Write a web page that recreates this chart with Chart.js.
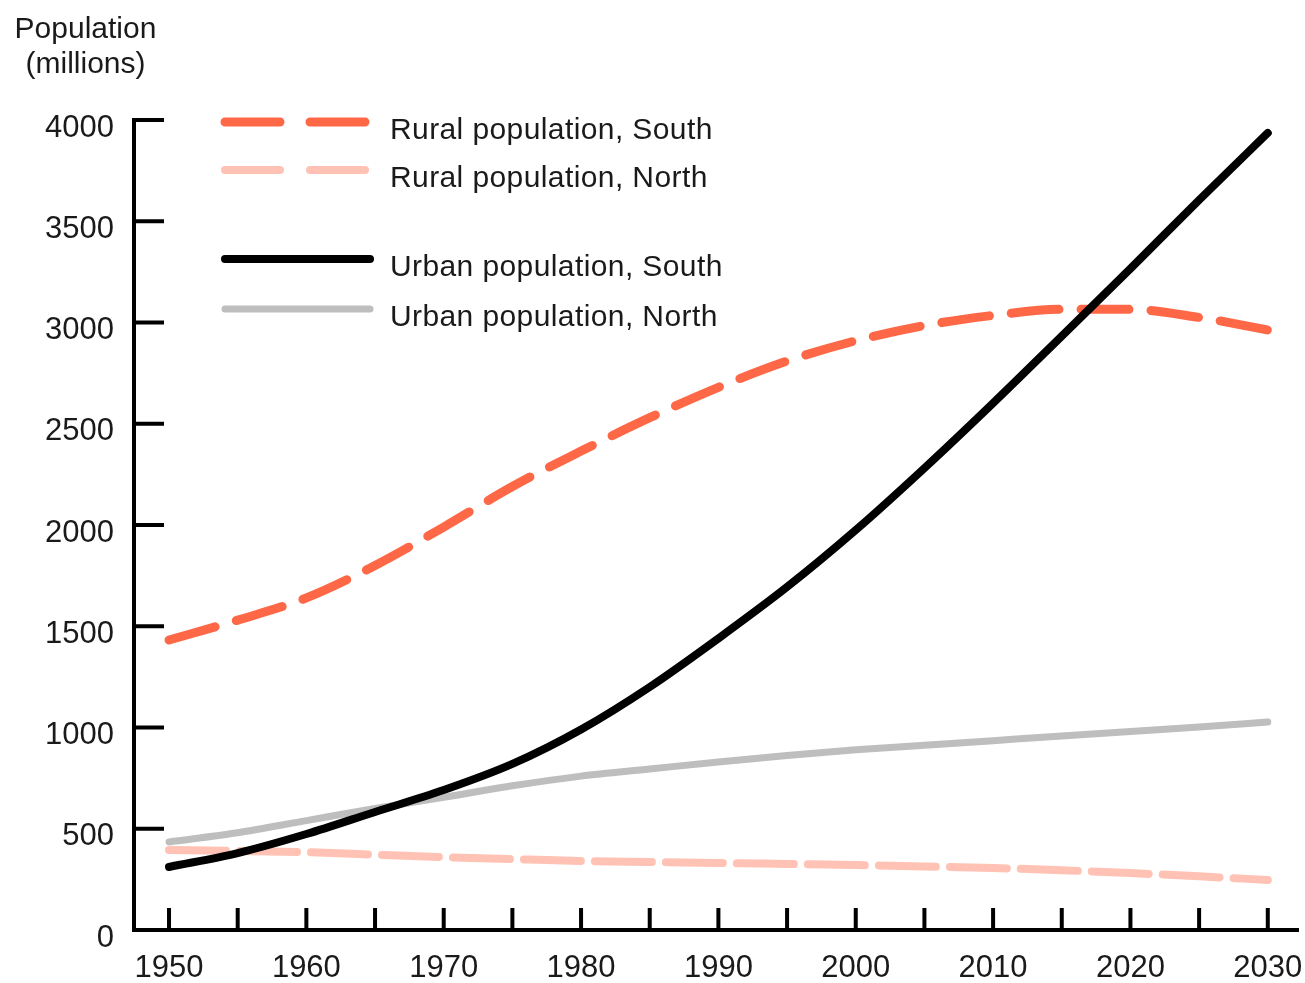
<!DOCTYPE html>
<html>
<head>
<meta charset="utf-8">
<script src="https://cdn.jsdelivr.net/npm/chart.js@4.4.0/dist/chart.umd.min.js"></script>
<style>
  body { margin: 0; background: #fff; }
  #wrap { position: relative; width: 1305px; height: 983px; }
  #title {
    position: absolute; left: 0; top: 10px; width: 171px;
    text-align: center; color: #1a1a1a;
    font: 30px "Liberation Sans", Arial, sans-serif; line-height: 35px;
  }
</style>
</head>
<body>
<div id="wrap">
  <canvas id="popChart" width="1305" height="983"></canvas>
  <div id="title">Population<br>(millions)</div>
</div>
<script>
// population in millions, every 5 years
var years      = [1950, 1955, 1960, 1965, 1970, 1975, 1980, 1985, 1990, 1995, 2000, 2005, 2010, 2015, 2020, 2025, 2030];
var ruralSouth = [1432, 1530, 1640, 1800, 1990, 2190, 2365, 2530, 2680, 2810, 2910, 2985, 3035, 3065, 3065, 3025, 2963];
var ruralNorth = [ 395,  390,  384,  372,  360,  350,  341,  336,  331,  326,  321,  314,  306,  295,  281,  265,  247];
var urbanSouth = [ 311,  380,  474,  583,  691,  820,  990, 1200, 1440, 1694, 1975, 2281, 2602, 2933, 3266, 3605, 3936];
var urbanNorth = [ 435,  480,  540,  600,  655,  712,  760,  795,  830,  862,  890,  912,  935,  958,  980, 1002, 1027];

var yTickValues = [0, 500, 1000, 1500, 2000, 2500, 3000, 3500, 4000];
var xTickYears  = [1950, 1955, 1960, 1965, 1970, 1975, 1980, 1985, 1990, 1995, 2000, 2005, 2010, 2015, 2020, 2025, 2030];

var FONT = '"Liberation Sans", Arial, sans-serif';

function points(values) {
  return years.map(function(y, i) { return { x: y, y: values[i] }; });
}

// short tick marks drawn inside the plot, like the original
var axisMarks = {
  id: 'axisMarks',
  beforeDatasetsDraw: function(chart) {
    var ctx = chart.ctx, area = chart.chartArea;
    var xs = chart.scales.x, ys = chart.scales.y;
    ctx.save();
    ctx.strokeStyle = '#000';
    ctx.lineWidth = 4;
    ctx.beginPath();
    yTickValues.forEach(function(v) {
      if (v === 0) return;
      var y = ys.getPixelForValue(v);
      ctx.moveTo(area.left, y);
      ctx.lineTo(area.left + 30, y);
    });
    xTickYears.forEach(function(yr) {
      var x = xs.getPixelForValue(yr);
      ctx.moveTo(x, area.bottom);
      ctx.lineTo(x, area.bottom - 22);
    });
    ctx.stroke();
    ctx.restore();
  }
};

// legend in the top-left corner of the plot, with a gap between rural and urban
var legendRows = [122, 170, 259, 309];
var sideLegend = {
  id: 'sideLegend',
  afterDraw: function(chart) {
    var ctx = chart.ctx;
    ctx.save();
    chart.data.datasets.forEach(function(ds, i) {
      var y = legendRows[i];
      var dashed = ds.borderDash && ds.borderDash.length;
      ctx.strokeStyle = ds.borderColor;
      ctx.lineWidth = ds.borderWidth;
      ctx.lineCap = 'round';
      ctx.setLineDash(dashed ? [55, 30] : []);
      ctx.beginPath();
      ctx.moveTo(225, y);
      ctx.lineTo(dashed ? 366 : 370, y);
      ctx.stroke();
      ctx.setLineDash([]);
      ctx.fillStyle = '#1a1a1a';
      ctx.font = '30px ' + FONT;
      ctx.letterSpacing = '0.4px';
      ctx.textBaseline = 'alphabetic';
      ctx.fillText(ds.label, 390, y + 17);
    });
    ctx.restore();
  }
};

var ctx = document.getElementById('popChart').getContext('2d');
var chart = new Chart(ctx, {
  type: 'line',
  data: {
    datasets: [
      { label: 'Rural population, South', data: points(ruralSouth), borderColor: '#ff6847', borderWidth: 9, borderDash: [48, 22], order: 2 },
      { label: 'Rural population, North', data: points(ruralNorth), borderColor: '#ffc2b4', borderWidth: 8, borderDash: [57, 14], order: 3 },
      { label: 'Urban population, South', data: points(urbanSouth), borderColor: '#000000', borderWidth: 8, borderDash: [], order: 0 },
      { label: 'Urban population, North', data: points(urbanNorth), borderColor: '#bebebe', borderWidth: 7, borderDash: [], order: 1 }
    ]
  },
  options: {
    responsive: false,
    animation: false,
    layout: { padding: { top: 120, right: 7, left: 0, bottom: 0 } },
    plugins: { legend: { display: false }, tooltip: { enabled: false } },
    elements: {
      point: { radius: 0 },
      line: { borderCapStyle: 'round', borderJoinStyle: 'round', cubicInterpolationMode: 'monotone' }
    },
    scales: {
      x: {
        type: 'linear', min: 1947.45, max: 2032.2,
        grid: { display: false },
        border: { display: true, color: '#000', width: 4 },
        ticks: {
          stepSize: 10, includeBounds: false, autoSkip: false, maxRotation: 0,
          padding: 12, color: '#1a1a1a', font: { family: FONT, size: 31 },
          callback: function(v) { return String(Math.round(v)); }
        },
        afterFit: function(s) {
          s.height = 53;
          s.paddingLeft = 0;
          s.paddingRight = 0;
        }
      },
      y: {
        min: 0, max: 4000,
        grid: { display: false },
        border: { display: true, color: '#000', width: 4 },
        ticks: {
          stepSize: 500, padding: 12, labelOffset: 8,
          color: '#1a1a1a', font: { family: FONT, size: 31 },
          callback: function(v) { return String(v); }
        },
        afterFit: function(s) {
          s.width = 134;
          s.paddingTop = 0;
          s.paddingBottom = 0;
        }
      }
    }
  },
  plugins: [axisMarks, sideLegend]
});
</script>
</body>
</html>
